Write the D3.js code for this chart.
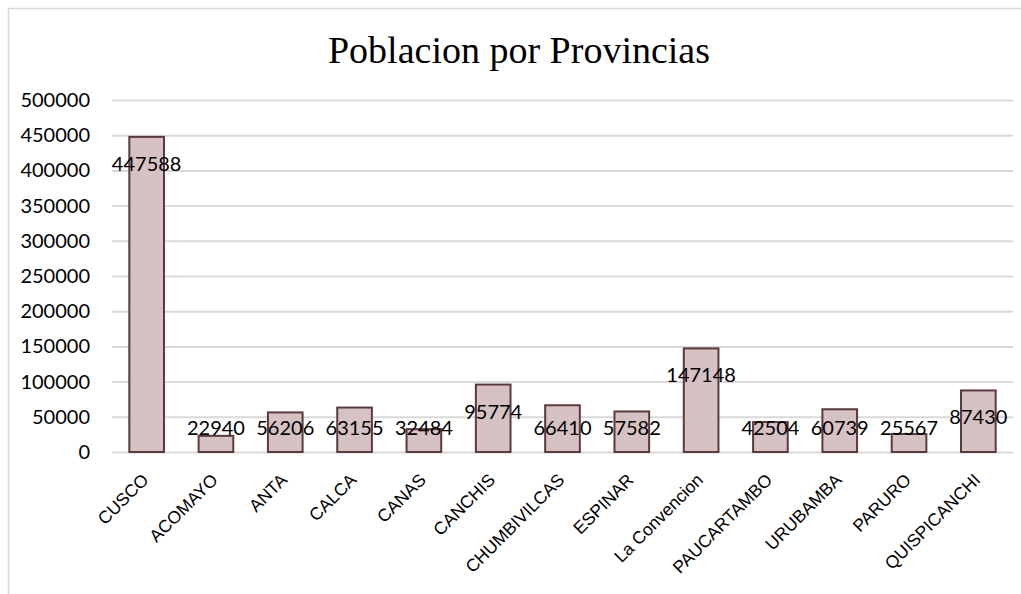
<!DOCTYPE html>
<html>
<head>
<meta charset="utf-8">
<script src="https://cdn.jsdelivr.net/npm/d3@7"></script>
<style>
  html, body { margin: 0; padding: 0; background: #ffffff; }
  svg { display: block; }
</style>
</head>
<body>
<svg id="chart" width="1021" height="594"></svg>
<script>
const categories = ["CUSCO", "ACOMAYO", "ANTA", "CALCA", "CANAS", "CANCHIS", "CHUMBIVILCAS", "ESPINAR", "La Convencion", "PAUCARTAMBO", "URUBAMBA", "PARURO", "QUISPICANCHI"];
const values = [447588, 22940, 56206, 63155, 32484, 95774, 66410, 57582, 147148, 42504, 60739, 25567, 87430];
const yTicks = [0, 50000, 100000, 150000, 200000, 250000, 300000, 350000, 400000, 450000, 500000];
const title = "Poblacion por Provincias";

const svg = d3.select("#chart");
const W = 1021, H = 594;
const plot = { left: 112, right: 1013, top: 100, bottom: 452 };

// outer frame (top and left edges visible)
svg.append("line").attr("x1", 8).attr("x2", W).attr("y1", 8.5).attr("y2", 8.5)
  .attr("stroke", "#d9d9d9").attr("stroke-width", 1.5);
svg.append("line").attr("x1", 8.5).attr("x2", 8.5).attr("y1", 8).attr("y2", H)
  .attr("stroke", "#d9d9d9").attr("stroke-width", 1.5);

const x = d3.scaleBand().domain(categories).range([plot.left, plot.right]).paddingInner(0.5).paddingOuter(0.25);
const y = d3.scaleLinear().domain([0, 500000]).range([plot.bottom, plot.top]);

// title
svg.append("text").attr("x", 519).attr("y", 63)
  .attr("text-anchor", "middle")
  .attr("font-family", "'Liberation Serif', 'Times New Roman', serif")
  .attr("font-size", 38).attr("fill", "#000").text(title);

// gridlines
const yAxis = d3.axisLeft(y).tickValues(yTicks).tickSize(-(plot.right - plot.left)).tickPadding(22).tickFormat(d3.format("d"));
const gy = svg.append("g").attr("transform", `translate(${plot.left},0)`).call(yAxis);
gy.select(".domain").remove();
gy.selectAll(".tick line").attr("stroke", "#d9d9d9").attr("stroke-width", 2);
gy.selectAll(".tick text").attr("font-family", "Lato, 'Open Sans', sans-serif")
  .attr("font-size", 20).attr("fill", "#000");

// bars
svg.append("g").selectAll("rect").data(values).join("rect")
  .attr("x", (d, i) => x(categories[i]))
  .attr("y", d => y(d))
  .attr("width", x.bandwidth())
  .attr("height", d => y(0) - y(d))
  .attr("fill", "#d7c2c3")
  .attr("stroke", "#5a3a3c")
  .attr("stroke-width", 2);

// data labels
svg.append("g").selectAll("text").data(values).join("text")
  .attr("x", (d, i) => x(categories[i]) + x.bandwidth() / 2)
  .attr("y", d => Math.min(y(d) + 27, y(0) - 24))
  .attr("dy", "0.35em")
  .attr("text-anchor", "middle")
  .attr("font-family", "Lato, 'Open Sans', sans-serif")
  .attr("font-size", 20).attr("fill", "#000")
  .text(d => d);

// x axis labels
const xAxis = d3.axisBottom(x).tickSize(0).tickPadding(0);
const gx = svg.append("g").attr("transform", `translate(0,${plot.bottom})`).call(xAxis);
gx.select(".domain").remove();
gx.selectAll(".tick text")
  .attr("font-family", "'Liberation Sans', Arial, sans-serif")
  .attr("font-size", 17.5).attr("fill", "#000")
  .attr("text-anchor", "end")
  .attr("dy", null).attr("y", null)
  .attr("transform", "translate(3,29) rotate(-45)");
</script>
</body>
</html>
